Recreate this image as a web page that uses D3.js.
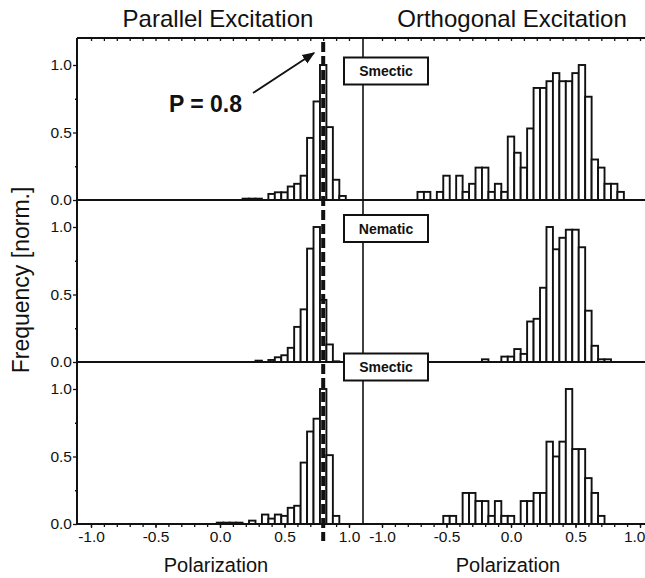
<!doctype html>
<html lang="en">
<head>
<meta charset="utf-8">
<title>Polarization histograms</title>
<style>
  body { margin: 0; background: #fff; }
  svg { display: block; font-family: Arial, "Liberation Sans", sans-serif; }
</style>
</head>
<body>
<div id="output"></div>
<script src="https://d3js.org/d3.v7.min.js"></script>
<script>
    // bin centres (polarization) and normalized frequencies
    var parSmectic1Bins = [0.20, 0.25, 0.30, 0.40, 0.45, 0.50, 0.55, 0.60, 0.65, 0.70, 0.75, 0.80, 0.85, 0.90, 0.95];
    var parSmectic1Freq = [0.01, 0.01, 0.01, 0.045, 0.057, 0.057, 0.10, 0.12, 0.18, 0.46, 0.73, 1.00, 0.54, 0.15, 0.03];

    var ortSmectic1Bins = [-0.70, -0.65, -0.55, -0.50, -0.40, -0.35, -0.30, -0.25, -0.20, -0.15, -0.10, -0.05, 0.00, 0.05, 0.10,
                           0.15, 0.20, 0.25, 0.30, 0.35, 0.40, 0.45, 0.50, 0.55, 0.60, 0.65, 0.70, 0.75, 0.80, 0.85];
    var ortSmectic1Freq = [0.06, 0.06, 0.06, 0.18, 0.18, 0.06, 0.12, 0.24, 0.24, 0.06, 0.12, 0.06, 0.47, 0.35, 0.24,
                           0.53, 0.83, 0.83, 0.88, 0.94, 0.88, 0.88, 0.94, 1.00, 0.765, 0.30, 0.24, 0.12, 0.12, 0.06];

    var parNematicBins = [0.30, 0.40, 0.45, 0.50, 0.55, 0.60, 0.65, 0.70, 0.75, 0.80, 0.85, 0.90];
    var parNematicFreq = [0.01, 0.015, 0.035, 0.05, 0.105, 0.26, 0.39, 0.84, 1.00, 0.46, 0.13, 0.005];

    var ortNematicBins = [-0.20, -0.05, 0.00, 0.05, 0.10, 0.15, 0.20, 0.25, 0.30, 0.35, 0.40, 0.45, 0.50, 0.55, 0.60, 0.65, 0.70, 0.75];
    var ortNematicFreq = [0.02, 0.04, 0.04, 0.096, 0.06, 0.30, 0.32, 0.55, 1.00, 0.835, 0.92, 0.98, 0.98, 0.85, 0.38, 0.12, 0.02, 0.02];

    var parSmectic2Bins = [0.00, 0.05, 0.10, 0.15, 0.25, 0.35, 0.40, 0.45, 0.50, 0.55, 0.60, 0.65, 0.70, 0.75, 0.80, 0.85, 0.90];
    var parSmectic2Freq = [0.01, 0.01, 0.01, 0.01, 0.025, 0.07, 0.04, 0.07, 0.06, 0.12, 0.135, 0.455, 0.685, 0.78, 1.00, 0.51, 0.06];

    var ortSmectic2Bins = [-0.50, -0.45, -0.35, -0.30, -0.25, -0.20, -0.15, -0.10, -0.05, 0.00, 0.10, 0.15,
                           0.20, 0.25, 0.30, 0.35, 0.40, 0.45, 0.50, 0.55, 0.60, 0.65, 0.70];
    var ortSmectic2Freq = [0.06, 0.06, 0.23, 0.23, 0.17, 0.17, 0.06, 0.17, 0.06, 0.06, 0.17, 0.17,
                           0.23, 0.23, 0.61, 0.50, 0.61, 1.00, 0.555, 0.555, 0.34, 0.23, 0.06];

    var phaseLabels = ["Smectic", "Nematic", "Smectic"];
    var columnTitles = ["Parallel Excitation", "Orthogonal Excitation"];
    var yTickValues = [0, 0.5, 1.0];
    var yMinorValues = [0.25, 0.75];
    var xTickValues = [-1.0, -0.5, 0.0, 0.5, 1.0];
    var binWidth = 0.05;
    var markedP = 0.8;

    var panels = [
        [parSmectic1Bins, parSmectic1Freq, ortSmectic1Bins, ortSmectic1Freq],
        [parNematicBins, parNematicFreq, ortNematicBins, ortNematicFreq],
        [parSmectic2Bins, parSmectic2Freq, ortSmectic2Bins, ortSmectic2Freq]
    ];

    var W = 645, H = 578;
    var frameLeft = 77, frameMid = 363, frameRight = 660;
    var panelTop = 38, panelH = 162;
    var tickFont = 15.5;
    var fmt = function (d) { return d.toFixed(1); };

    var svg = d3.select("#output").append("svg")
        .attr("width", W)
        .attr("height", H);

    var xL = d3.scaleLinear().domain([-1, 1]).range([91, 349]);
    var xR = d3.scaleLinear().domain([-1, 1]).range([382, 640]);
    var xs = [xL, xR];

    function yScale(i) {
        var top = panelTop + i * panelH;
        return d3.scaleLinear().domain([0, 1.2]).range([top + panelH, top]);
    }

    // bars
    panels.forEach(function (p, i) {
        var y = yScale(i);
        [0, 1].forEach(function (c) {
            var x = xs[c];
            var rows = p[2 * c].map(function (b, k) { return { b: b, f: p[2 * c + 1][k] }; });
            svg.append("g").selectAll("rect")
                .data(rows)
                .enter().append("rect")
                .attr("x", function (d) { return x(d.b - binWidth / 2); })
                .attr("width", function (d) { return x(d.b + binWidth / 2) - x(d.b - binWidth / 2); })
                .attr("y", function (d) { return y(d.f); })
                .attr("height", function (d) { return y(0) - y(d.f); })
                .attr("fill", "#fff")
                .attr("stroke", "#111")
                .attr("stroke-width", 1.9);
        });
    });

    // frame lines
    var frame = svg.append("g").attr("stroke", "#111").attr("fill", "none");
    frame.append("line").attr("x1", frameLeft).attr("x2", frameRight)
        .attr("y1", panelTop).attr("y2", panelTop).attr("stroke-width", 2);
    [0, 1, 2].forEach(function (i) {
        var y = yScale(i);
        frame.append("line").attr("x1", frameLeft).attr("x2", frameRight)
            .attr("y1", y(0)).attr("y2", y(0)).attr("stroke-width", 2);
    });
    frame.append("line").attr("x1", frameLeft).attr("x2", frameLeft)
        .attr("y1", panelTop).attr("y2", panelTop + 3 * panelH).attr("stroke-width", 2);
    frame.append("line").attr("x1", frameMid).attr("x2", frameMid)
        .attr("y1", panelTop).attr("y2", panelTop + 3 * panelH).attr("stroke-width", 1.6);

    // y axes
    panels.forEach(function (p, i) {
        var y = yScale(i);
        var ax = svg.append("g")
            .attr("transform", "translate(" + frameLeft + ",0)")
            .call(d3.axisLeft(y).tickValues(yTickValues).tickFormat(fmt).tickSize(4).tickPadding(1));
        ax.select(".domain").remove();
        ax.selectAll("text").attr("font-size", tickFont).attr("fill", "#111").attr("font-family", "Arial, 'Liberation Sans', sans-serif");
        var mn = svg.append("g")
            .attr("transform", "translate(" + frameLeft + ",0)")
            .call(d3.axisLeft(y).tickValues(yMinorValues).tickFormat("").tickSize(2));
        mn.select(".domain").remove();
    });

    // x axes (bottom + top ticks)
    var bottomY = panelTop + 3 * panelH;
    xs.forEach(function (x, c) {
        var ax = svg.append("g")
            .attr("transform", "translate(0," + bottomY + ")")
            .call(d3.axisBottom(x).tickValues(xTickValues).tickFormat(fmt).tickSize(4).tickPadding(3));
        ax.select(".domain").remove();
        ax.selectAll("text").attr("font-size", tickFont).attr("fill", "#111").attr("font-family", "Arial, 'Liberation Sans', sans-serif");
        if (c === 1) {
            // last label sits against the window edge
            ax.selectAll("text").filter(function (d) { return d === 1; })
                .attr("text-anchor", "end").attr("x", 645 - x(1));
        }
        var mn = svg.append("g")
            .attr("transform", "translate(0," + bottomY + ")")
            .call(d3.axisBottom(x).ticks(20).tickFormat("").tickSize(3));
        mn.select(".domain").remove();
        var tp = svg.append("g")
            .attr("transform", "translate(0," + panelTop + ")")
            .call(d3.axisTop(x).ticks(20).tickFormat("").tickSize(-3));
        tp.select(".domain").remove();
    });
    svg.selectAll(".tick line").attr("stroke", "#111").attr("stroke-width", 1.3);

    // phase labels
    var boxCentres = [71, 228.5, 367];
    phaseLabels.forEach(function (lab, i) {
        var g = svg.append("g").attr("transform", "translate(386," + boxCentres[i] + ")");
        g.append("rect").attr("x", -42).attr("y", -13.5).attr("width", 84).attr("height", 27)
            .attr("fill", "#fff").attr("stroke", "#111").attr("stroke-width", 2);
        g.append("text").attr("text-anchor", "middle").attr("dy", "0.36em")
            .attr("font-size", 14).attr("font-weight", "bold").attr("fill", "#111").text(lab);
    });

    // dashed marker at P = 0.8
    svg.append("line")
        .attr("x1", xL(markedP)).attr("x2", xL(markedP))
        .attr("y1", 42).attr("y2", 541)
        .attr("stroke", "#111").attr("stroke-width", 4)
        .attr("stroke-dasharray", "10,4");

    // annotation
    svg.append("defs").append("marker")
        .attr("id", "arr").attr("viewBox", "0 0 10 10").attr("refX", 9).attr("refY", 5)
        .attr("markerWidth", 7).attr("markerHeight", 7).attr("orient", "auto")
        .append("path").attr("d", "M0,1 L10,5 L0,9 z").attr("fill", "#111");
    svg.append("line")
        .attr("x1", 253).attr("y1", 93).attr("x2", 314).attr("y2", 53)
        .attr("stroke", "#111").attr("stroke-width", 1.8).attr("marker-end", "url(#arr)");
    svg.append("text").attr("x", 242).attr("y", 112).attr("text-anchor", "end")
        .attr("font-size", 23).attr("font-weight", "bold").attr("fill", "#111").text("P = " + fmt(markedP));

    // titles
    svg.append("text").attr("x", 218).attr("y", 27).attr("text-anchor", "middle")
        .attr("font-size", 24).attr("fill", "#111").text(columnTitles[0]);
    svg.append("text").attr("x", 512).attr("y", 27).attr("text-anchor", "middle")
        .attr("font-size", 24).attr("fill", "#111").text(columnTitles[1]);
    svg.append("text").attr("x", 216).attr("y", 572).attr("text-anchor", "middle")
        .attr("font-size", 20).attr("fill", "#111").text("Polarization");
    svg.append("text").attr("x", 508).attr("y", 572).attr("text-anchor", "middle")
        .attr("font-size", 20).attr("fill", "#111").text("Polarization");
    svg.append("text").attr("transform", "translate(29,280) rotate(-90)").attr("text-anchor", "middle")
        .attr("font-size", 23).attr("fill", "#111").text("Frequency [norm.]");
</script>
</body>
</html>
